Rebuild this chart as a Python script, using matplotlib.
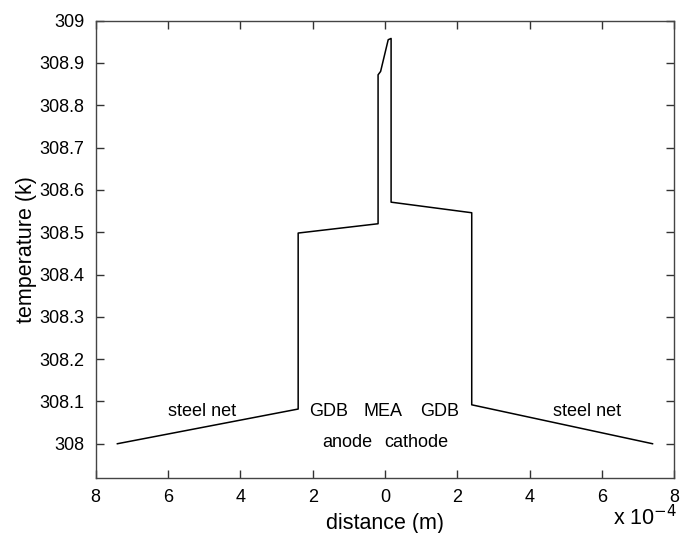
import matplotlib
matplotlib.use("Agg")
import matplotlib.pyplot as plt
from matplotlib.ticker import FixedLocator

plt.rcParams['font.family'] = ['Liberation Sans', 'DejaVu Sans']

# distance (m) and temperature (K)
x_m = [-7.40e-4, -2.40e-4, -2.40e-4, -0.19e-4, -0.19e-4, -0.12e-4, 0.09e-4,
       0.17e-4, 0.17e-4, 2.40e-4, 2.40e-4, 7.40e-4]
temp_k = [308.000, 308.082, 308.498, 308.520, 308.872, 308.880, 308.955,
          308.958, 308.571, 308.546, 308.092, 308.000]

x_ticks = [-8e-4, -6e-4, -4e-4, -2e-4, 0, 2e-4, 4e-4, 6e-4, 8e-4]
x_tick_labels = ['8', '6', '4', '2', '0', '2', '4', '6', '8']
y_ticks = [308.0, 308.1, 308.2, 308.3, 308.4, 308.5, 308.6, 308.7, 308.8, 308.9, 309.0]
y_tick_labels = ['308', '308.1', '308.2', '308.3', '308.4', '308.5', '308.6',
                 '308.7', '308.8', '308.9', '309']

region_labels = ['steel net', 'GDB', 'MEA', 'GDB', 'steel net', 'anode', 'cathode']
region_x = [-5.05e-4, -1.55e-4, -0.05e-4, 1.50e-4, 5.60e-4, -1.05e-4, 0.88e-4]
region_y = [308.075, 308.075, 308.075, 308.075, 308.075, 308.004, 308.004]

fig = plt.figure(figsize=(6.8, 5.33), dpi=100)
ax = fig.add_axes([0.1407, 0.1032, 0.9915 - 0.1407, 0.9612 - 0.1032])

ax.plot(x_m, temp_k, color='black', lw=1.1)

ax.set_xlim(-8e-4, 8e-4)
ax.set_ylim(307.919, 309.0)
ax.xaxis.set_major_locator(FixedLocator(x_ticks))
ax.set_xticklabels(x_tick_labels)
ax.yaxis.set_major_locator(FixedLocator(y_ticks))
ax.set_yticklabels(y_tick_labels)

ax.tick_params(direction='in', length=6, width=1, top=True, right=True,
               labelsize=13, colors='#333333', labelcolor='black', pad=8)
for s in ax.spines.values():
    s.set_color('#444444')
    s.set_linewidth(1.0)

for t, xx, yy in zip(region_labels, region_x, region_y):
    ax.text(xx, yy, t, ha='center', va='center', fontsize=13)

ax.set_xlabel('distance (m)', fontsize=15.5, labelpad=5)
ax.set_ylabel('temperature (k)', fontsize=15.5, labelpad=2)
fig.text(0.995, 0.014, r'x 10$^{-4}$', ha='right', va='baseline', fontsize=15.5)

fig.savefig('out.png', dpi=100)
